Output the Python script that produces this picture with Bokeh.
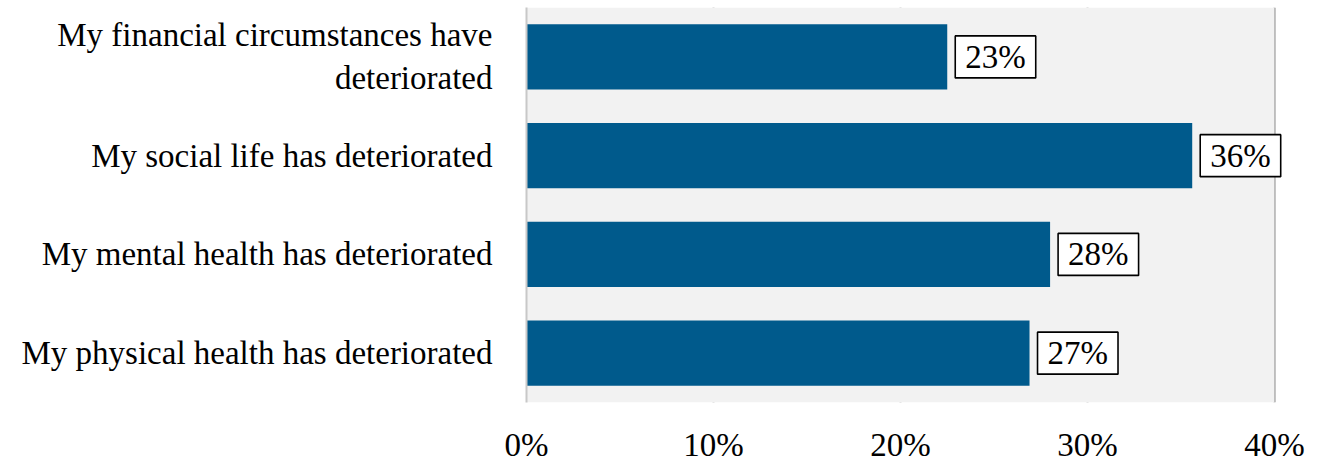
from bokeh.plotting import figure
from bokeh.models import FactorRange, Range1d, FixedTicker, ColumnDataSource, BoxAnnotation
from bokeh.core.properties import value
from bokeh.embed import file_html
from bokeh.resources import INLINE

categories = [
    "My physical health has deteriorated",
    "My mental health has deteriorated",
    "My social life has deteriorated",
    "My financial circumstances have\ndeteriorated",
]
values = [26.9, 28.0, 35.6, 22.5]
labels = ["27%", "28%", "36%", "23%"]
ticks = [0, 10, 20, 30, 40]
tick_labels = ["0%", "10%", "20%", "30%", "40%"]

FONT = "Liberation Serif"

p = figure(width=1317, height=465, output_backend="svg", toolbar_location=None,
           y_range=FactorRange(*categories, range_padding=0), x_range=Range1d(0, 42.3),
           min_border_left=526, min_border_right=0, min_border_top=7, min_border_bottom=60)
p.background_fill_color = "white"
p.border_fill_color = "white"
p.outline_line_color = None
p.add_layout(BoxAnnotation(left=0, right=40, fill_color="#f2f2f2", fill_alpha=1,
                           line_color=None, level="underlay"))

src = ColumnDataSource(dict(cat=categories, val=values, lab=labels))
p.hbar(y="cat", right="val", left=0, height=0.66, source=src,
       fill_color="#005a8c", line_color=None)

p.text(x="val", y="cat", text="lab", source=src, x_offset=8, text_align="left",
       text_baseline="middle", text_font=value(FONT), text_font_size="33px",
       text_color="black", background_fill_color="white", border_line_color="black",
       border_line_width=1.6, padding=dict(left=10, right=10, top=3, bottom=3))

p.xaxis.ticker = FixedTicker(ticks=ticks)
p.xaxis.major_label_overrides = dict(zip(ticks, tick_labels))
p.xaxis.axis_line_color = None
p.xaxis.major_tick_line_color = None
p.xaxis.minor_tick_line_color = None
p.xaxis.major_label_text_font = FONT
p.xaxis.major_label_text_font_size = "33px"
p.xaxis.major_label_text_color = "black"
p.xaxis.major_label_standoff = 18

p.yaxis.axis_line_color = "#c8c8c8"
p.yaxis.axis_line_width = 2
p.yaxis.major_tick_line_color = None
p.yaxis.minor_tick_line_color = None
p.yaxis.major_label_text_font = FONT
p.yaxis.major_label_text_font_size = "33px"
p.yaxis.major_label_text_color = "black"
p.yaxis.major_label_standoff = 28

p.ygrid.grid_line_color = None
p.xgrid.ticker = FixedTicker(ticks=ticks[1:])
p.xgrid.grid_line_color = "#8a8a8a"
p.xgrid.grid_line_width = 2

open("out.html", "w").write(file_html(p, INLINE))
